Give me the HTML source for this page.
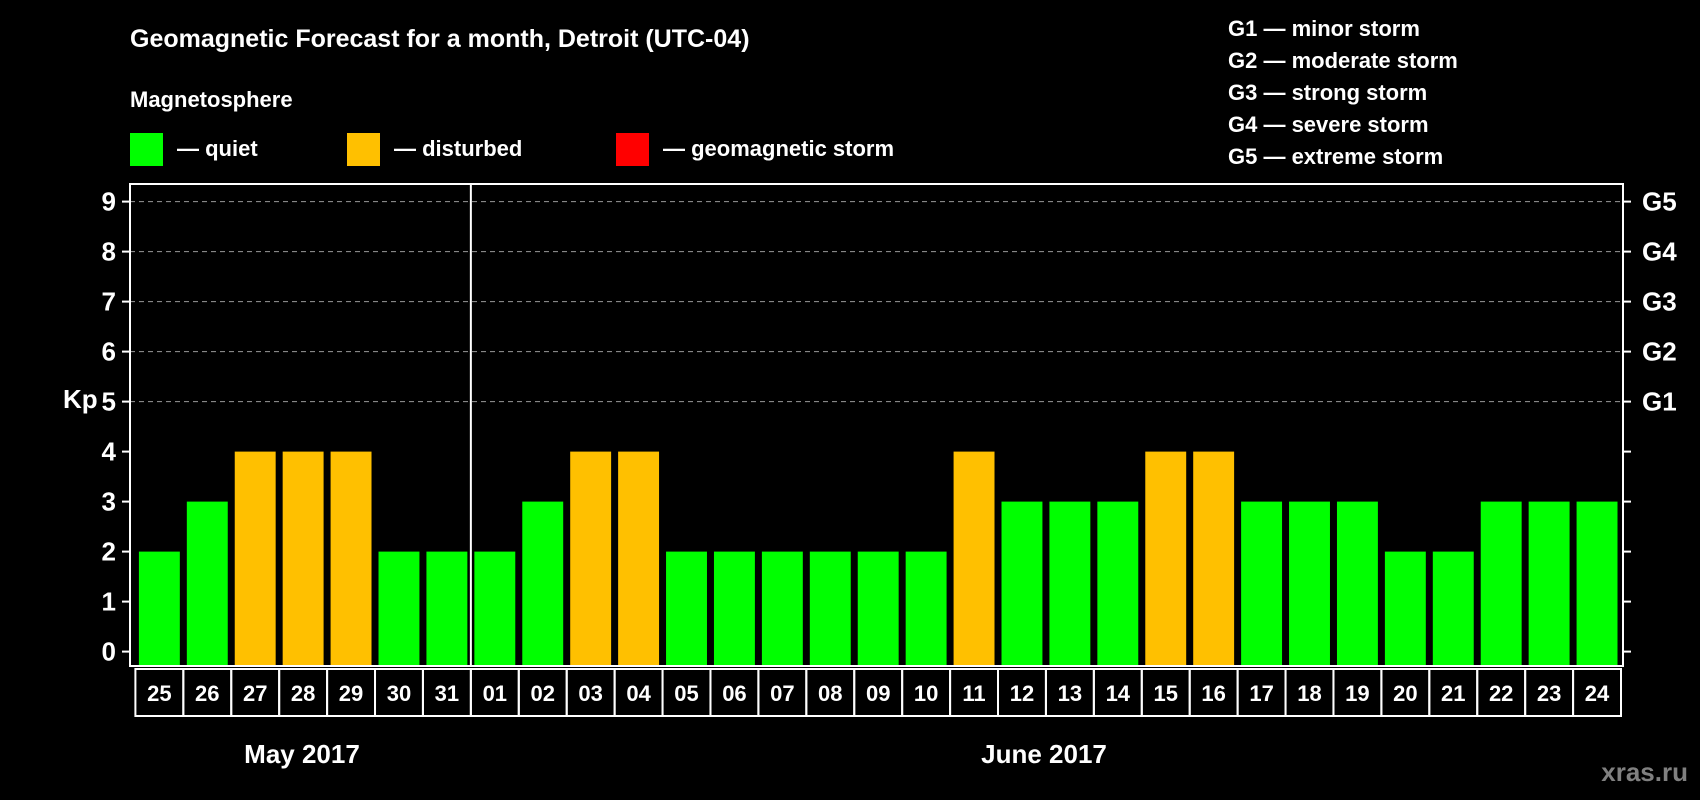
<!DOCTYPE html>
<html><head><meta charset="utf-8"><style>
html,body{margin:0;padding:0;background:#000;}
svg{display:block;font-family:"Liberation Sans",Arial,sans-serif;font-weight:bold;}
</style></head><body>
<svg id="chart" width="1700" height="800" viewBox="0 0 1700 800">
<text x="130" y="47" fill="#fff" font-size="25">Geomagnetic Forecast for a month, Detroit (UTC-04)</text>
<text x="130" y="107" fill="#fff" font-size="22">Magnetosphere</text>
<g><rect x="130" y="133" width="33" height="33" fill="#00ff00"/><text x="177" y="156" fill="#fff" font-size="22">— quiet</text></g>
<g><rect x="347" y="133" width="33" height="33" fill="#ffc000"/><text x="394" y="156" fill="#fff" font-size="22">— disturbed</text></g>
<g><rect x="616" y="133" width="33" height="33" fill="#ff0000"/><text x="663" y="156" fill="#fff" font-size="22">— geomagnetic storm</text></g>
<g fill="#fff" font-size="22">
<text x="1228" y="36">G1 — minor storm</text>
<text x="1228" y="68">G2 — moderate storm</text>
<text x="1228" y="100">G3 — strong storm</text>
<text x="1228" y="132">G4 — severe storm</text>
<text x="1228" y="164">G5 — extreme storm</text>
</g>
<text x="63" y="408" fill="#fff" font-size="26">Kp</text>
<g id="plot"></g>
<text x="302" y="763" fill="#fff" font-size="26" text-anchor="middle">May 2017</text>
<text x="1044" y="763" fill="#fff" font-size="26" text-anchor="middle">June 2017</text>
<text x="1688" y="781" fill="#808080" font-size="26" text-anchor="end">xras.ru</text>
</svg>
<script>
const days=["25","26","27","28","29","30","31","01","02","03","04","05","06","07","08","09","10","11","12","13","14","15","16","17","18","19","20","21","22","23","24"];
const kp=[2,3,4,4,4,2,2,2,3,4,4,2,2,2,2,2,2,4,3,3,3,4,4,3,3,3,2,2,3,3,3];
const yTicks=[0,1,2,3,4,5,6,7,8,9];
const gLabels=["G1","G2","G3","G4","G5"];
const gLevels=[5,6,7,8,9];
const NS="http://www.w3.org/2000/svg";
const g=document.getElementById('plot');
const L=130,R=1623,T=184,B=666,y0=651.6,unit=50,slot=(R-2-135.4)/31,x0=135.4;
const y=v=>y0-v*unit;
const x=i=>x0+i*slot;
function mk(t,a){const e=document.createElementNS(NS,t);for(const k in a)e.setAttribute(k,a[k]);g.appendChild(e);return e;}
yTicks.forEach(v=>{
  if(v>=5){const l=mk('line',{x1:L,x2:R,y1:y(v),y2:y(v),stroke:'#999','stroke-dasharray':'5,4','stroke-width':1});
  
  }
  const t1=mk('line',{x1:L-8,x2:L,y1:y(v),y2:y(v),stroke:'#fff','stroke-width':2});
  
  
  const t2=mk('line',{x1:R,x2:R+8,y1:y(v),y2:y(v),stroke:'#fff','stroke-width':2});
  
  
  const tx=mk('text',{x:L-14,y:y(v)+9,fill:'#fff','font-size':26,'text-anchor':'end'});
  tx.textContent=v;
  
  
});
gLabels.forEach((s,i)=>{
  const t=mk('text',{x:1642,y:y(gLevels[i])+9,fill:'#fff','font-size':26});
  t.textContent=s;
  
  
});
kp.forEach((v,i)=>{
  const r=mk('rect',{x:x(i)+3.5,y:y(v),width:slot-7,height:B-y(v)-1,fill:v>=5?'#ff0000':(v>=4?'#ffc000':'#00ff00')});
  
  
  const b=mk('rect',{x:x(i),y:669,width:slot,height:47,fill:'none',stroke:'#fff','stroke-width':2});
  
  
  const t=mk('text',{x:x(i)+slot/2,y:701,fill:'#fff','font-size':22,'text-anchor':'middle'});
  t.textContent=days[i];
  
  
});
const fr=mk('rect',{x:L,y:T,width:R-L,height:B-T,fill:'none',stroke:'#fff','stroke-width':2});


const dv=mk('line',{x1:x(7),x2:x(7),y1:T,y2:B,stroke:'#fff','stroke-width':2});


</script>
</body></html>
